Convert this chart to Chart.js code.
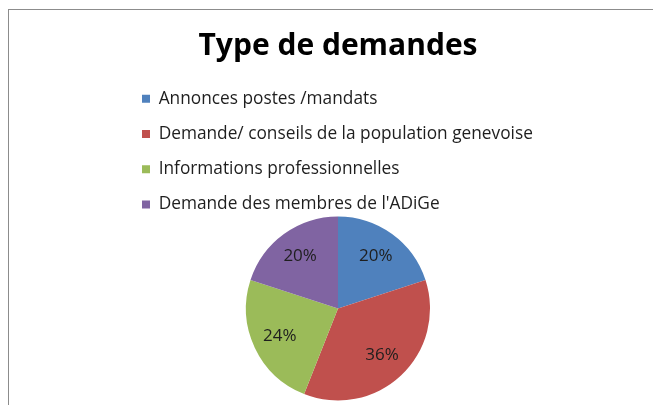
<!DOCTYPE html>
<html>
<head>
<meta charset="utf-8">
<script src="https://cdn.jsdelivr.net/npm/chart.js@4"></script>
<style>
  html, body { margin: 0; padding: 0; background: #ffffff; overflow: hidden; }
  #wrap { position: relative; width: 653px; height: 405px; }
  #frame { position: absolute; left: 8px; top: 9px; width: 700px; height: 450px; border: 1px solid #8c8c8c; box-sizing: border-box; }
  canvas { position: absolute; left: 0; top: 0; }
</style>
</head>
<body>
<div id="wrap">
  <div id="frame"></div>
  <canvas id="c" width="653" height="405"></canvas>
</div>
<script>
const chartTitle = "Type de demandes";
const categories = [
  "Annonces postes /mandats",
  "Demande/ conseils de la population genevoise",
  "Informations professionnelles",
  "Demande des membres de l'ADiGe"
];
const values = [20, 36, 24, 20];
const sliceColors = ["#4F81BD", "#C0504D", "#9BBB59", "#8064A2"];

const FONT = "'Open Sans', Lato, sans-serif";

const pctLabels = {
  id: 'pctLabels',
  afterDatasetsDraw(chart) {
    const ctx = chart.ctx;
    const meta = chart.getDatasetMeta(0);
    const data = chart.data.datasets[0].data;
    const total = data.reduce((a, b) => a + b, 0);
    ctx.save();
    ctx.font = "17px " + FONT;
    ctx.fillStyle = "#1e1e1e";
    ctx.textAlign = "center";
    ctx.textBaseline = "middle";
    meta.data.forEach((arc, i) => {
      const p = arc.getProps(['x', 'y', 'startAngle', 'endAngle', 'outerRadius'], true);
      const mid = (p.startAngle + p.endAngle) / 2;
      const r = p.outerRadius * 0.70;
      const x = p.x + Math.cos(mid) * r;
      const y = p.y + Math.sin(mid) * r;
      ctx.fillText(Math.round(data[i] / total * 100) + "%", x, y);
    });
    ctx.restore();
  }
};

const legendTrim = {
  id: 'legendTrim',
  beforeInit(chart) {
    const lg = chart.legend;
    if (!lg) return;
    const origFit = lg.fit;
    lg.fit = function () {
      origFit.call(this);
      this.height -= 6.7;
    };
  }
};

new Chart(document.getElementById('c'), {
  type: 'pie',
  data: {
    labels: categories,
    datasets: [{
      data: values,
      backgroundColor: sliceColors,
      borderWidth: 0
    }]
  },
  options: {
    responsive: false,
    animation: false,
    events: [],
    layout: { padding: { left: 124, right: 101, top: 0, bottom: 4.5 } },
    plugins: {
      title: {
        display: true,
        text: chartTitle,
        color: "#000000",
        font: { family: FONT, size: 30, weight: 'bold' },
        padding: { top: 28, bottom: 8 }
      },
      legend: {
        display: true,
        position: 'top',
        align: 'start',
        labels: {
          boxWidth: 8,
          boxHeight: 8,
          padding: 18,
          color: "#1e1e1e",
          font: { family: FONT, size: 17.3 }
        }
      },
      tooltip: { enabled: false }
    }
  },
  plugins: [legendTrim, pctLabels]
});
</script>
</body>
</html>
